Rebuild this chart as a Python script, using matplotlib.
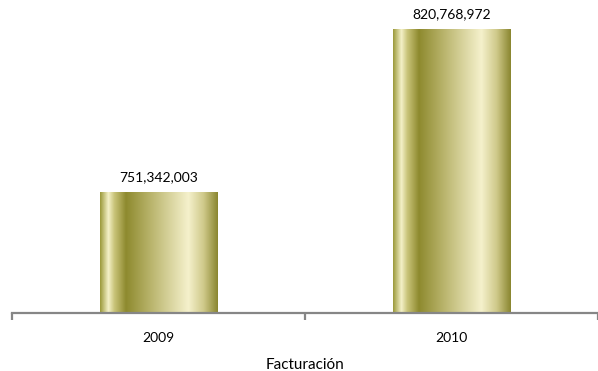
import numpy as np
import matplotlib.pyplot as plt
from matplotlib.colors import LinearSegmentedColormap

# Facturación por año
years = ["2009", "2010"]
revenue = [751342003, 820768972]

plt.rcParams['font.family'] = ['Lato', 'DejaVu Sans']

# cylinder-like gradient across the bar width
grad = LinearSegmentedColormap.from_list("oro", [
    (0.00, "#9c9a3c"),
    (0.07, "#f4f1c8"),
    (0.12, "#c9c47a"),
    (0.22, "#8e8a2e"),
    (0.45, "#bdb872"),
    (0.75, "#f5f1cc"),
    (0.88, "#cfc98a"),
    (1.00, "#8a8630"),
])

fig = plt.figure(figsize=(5.98, 3.71), dpi=100)
ax = fig.add_axes([12 / 598, 58 / 371, 586 / 598, 305 / 371])

x = np.arange(len(years))
bars = ax.bar(x, revenue, width=0.4, color="none", bottom=0)
ax.set_ylim(700e6, 830e6)
ax.set_xlim(-0.5, 1.5)

g = np.linspace(0, 1, 256).reshape(1, -1)
for b, v in zip(bars, revenue):
    x0, w = b.get_x(), b.get_width()
    ax.imshow(g, cmap=grad, aspect="auto", extent=(x0, x0 + w, 700e6, v),
              zorder=2)
    ax.text(x0 + w / 2, v + 4e6, f"{v:,}", ha="center", va="bottom",
            fontsize=10, color="#000000")

for s in ["top", "right", "left"]:
    ax.spines[s].set_visible(False)
ax.spines["bottom"].set_color("#868686")
ax.spines["bottom"].set_linewidth(1.6)
ax.set_yticks([])

ax.set_xticks(x)
ax.set_xticklabels(years, fontsize=10)
ax.set_xticks([-0.5, 0.5, 1.5], minor=True)
ax.tick_params(axis="x", which="major", length=0, pad=14)
ax.tick_params(axis="x", which="minor", length=5, width=1.6, color="#868686",
               direction="out")
ax.set_xlabel("Facturación", fontsize=11, labelpad=10)

fig.savefig("out.png", dpi=100)
